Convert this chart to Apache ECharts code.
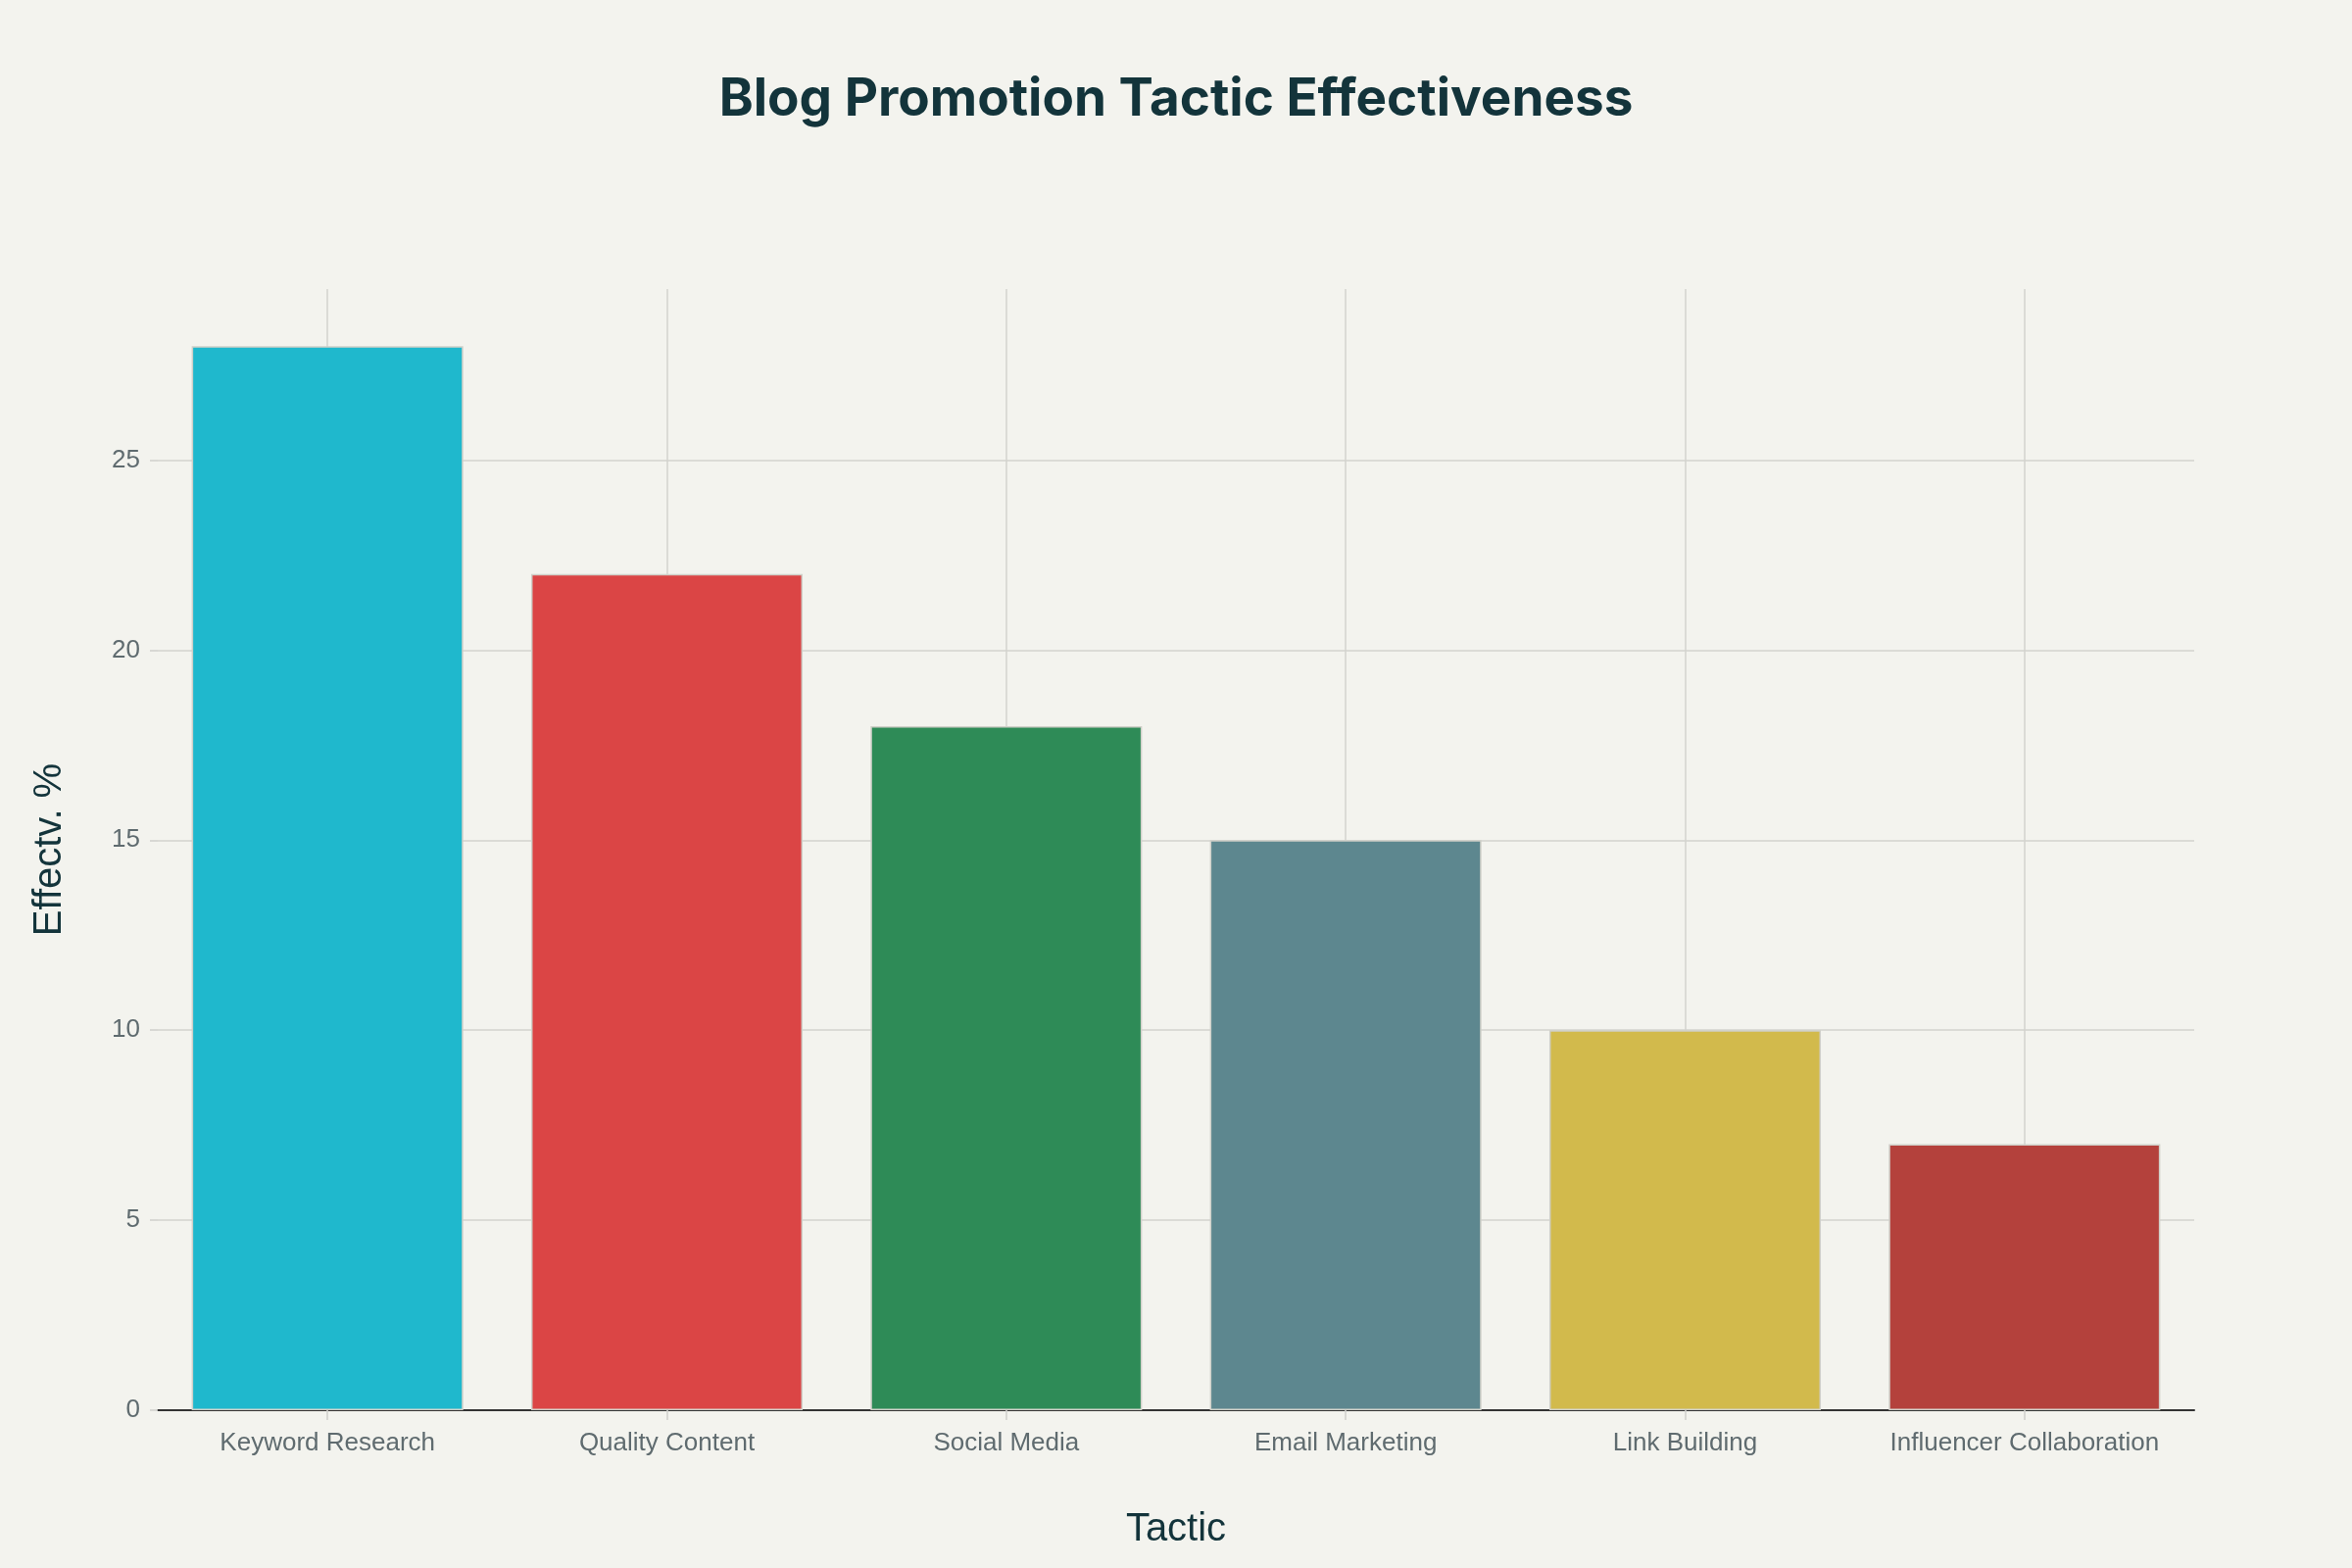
<!DOCTYPE html>
<html lang="en">
    <head>
        <meta charset="utf-8">
        <title>Blog Promotion Tactic Effectiveness</title>
        <script src="https://cdn.jsdelivr.net/npm/echarts@6.0.0/dist/echarts.min.js"></script>
        <style>
            html, body { margin: 0; padding: 0; background: #F3F3EE; }
        </style>
    </head>
    <body>
        <div id="main" style="width: 2400px;height: 1600px;"></div>

        <script type="text/javascript">

            // data
            let tactics = ['Keyword Research', 'Quality Content', 'Social Media', 'Email Marketing', 'Link Building', 'Influencer Collaboration'];
            let effectiveness = [28, 22, 18, 15, 10, 7];
            let barColors = ['#1FB8CD', '#DB4545', '#2E8B57', '#5D878F', '#D2BA4C', '#B4413C'];
            let yTicks = [0, 5, 10, 15, 20, 25];

            let myChart = echarts.init(document.getElementById('main'));

            let labelFont = 'Liberation Sans, Arial, sans-serif';

            let options = {
                backgroundColor: '#F3F3EE',
                title: {
                    text: 'Blog Promotion Tactic Effectiveness',
                    left: 'center',
                    top: 71,
                    textStyle: { fontFamily: 'Inter, sans-serif', fontSize: 53, fontWeight: 'bold', color: '#13343B' }
                },
                grid: { left: 161, right: 161, top: 295, bottom: 161 },
                xAxis: {
                    type: 'category',
                    data: tactics,
                    name: 'Tactic',
                    nameLocation: 'middle',
                    nameGap: 102,
                    nameTextStyle: { fontFamily: labelFont, fontSize: 40, color: '#13343B' },
                    axisLine: { lineStyle: { color: '#333333', width: 2 } },
                    axisTick: { show: true, interval: 0, alignWithLabel: true, length: 10, lineStyle: { color: '#d0d0cb', width: 1.5 } },
                    axisLabel: { interval: 0, fontFamily: labelFont, fontSize: 26, color: '#5f6b6f', margin: 21 },
                    splitLine: { show: true, interval: 0, alignWithLabel: true, lineStyle: { color: '#d3d3ce', width: 1.5 } }
                },
                yAxis: {
                    type: 'value',
                    min: 0,
                    max: 29.5,
                    interval: 5,
                    name: 'Effectv. %',
                    nameLocation: 'middle',
                    nameGap: 90,
                    nameTextStyle: { fontFamily: labelFont, fontSize: 40, color: '#13343B' },
                    axisLine: { show: false },
                    axisTick: { show: true, length: 8, customValues: yTicks, lineStyle: { color: '#d0d0cb', width: 1.5 } },
                    axisLabel: { fontFamily: labelFont, fontSize: 26, color: '#5f6b6f', margin: 18, customValues: yTicks },
                    splitLine: { show: true, showMinLine: false, lineStyle: { color: '#d3d3ce', width: 1.5 } }
                },
                series: [{
                    name: 'Effectiveness',
                    type: 'bar',
                    barCategoryGap: '20%',
                    data: effectiveness.map((v, i) => ({
                        value: v,
                        itemStyle: { color: barColors[i] }
                    })),
                    itemStyle: { borderColor: '#cfcfc8', borderWidth: 1.5 }
                }]
            };

            myChart.setOption(options);

        </script>
    </body>
</html>
